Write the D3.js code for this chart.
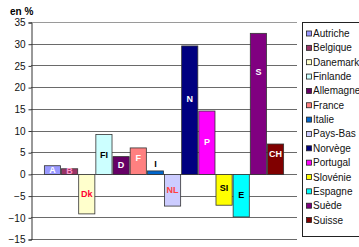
<!DOCTYPE html>
<html>
<head>
<meta charset="utf-8">
<script src="https://cdn.jsdelivr.net/npm/d3@7"></script>
<style>
  body { margin: 0; background: #fff; }
  svg { font-family: "Liberation Sans", Arial, sans-serif; }
</style>
</head>
<body>
<div id="chart"></div>
<script>
const countries = ["Autriche","Belgique","Danemark","Finlande","Allemagne","France","Italie",
  "Pays-Bas","Norvège","Portugal","Slovénie","Espagne","Suède","Suisse"];
const codes = ["A","B","Dk","FI","D","F","I","NL","N","P","SI","E","S","CH"];
const values = [2.0, 1.3, -9.1, 9.2, 4.1, 6.1, 0.8, -7.3, 29.6, 14.6, -7.1, -9.8, 32.5, 7.0];
const colors = ["#9999FF","#993366","#FFFFCC","#CCFFFF","#660066","#FF8080","#0066CC",
  "#CCCCFF","#000080","#FF00FF","#FFFF00","#00FFFF","#800080","#800000"];
const labelColors = ["#fff","#ff99cc","#ff0033","#000","#fff","#fff","#000",
  "#ff4040","#fff","#fff","#000","#000","#fff","#fff"];
// where the code label sits, in chart units
const labelAt = [1.0, 0.65, -4.55, 4.4, 2.0, 3.8, 2.4, -3.65, 17.3, 7.3, -3.1, -4.9, 23.6, 4.7];
const yTicks = [-15,-10,-5,0,5,10,15,20,25,30,35];

const W = 359, H = 247;
const plot = {left: 31, right: 297, top: 22, bottom: 239};

const svg = d3.select("#chart").append("svg")
  .attr("width", W).attr("height", H);

let y = d3.scaleLinear().domain([-15, 35]).range([plot.bottom, plot.top]);
let x = d3.scaleBand().domain(countries).range([plot.left, plot.right])
  .paddingInner(0).paddingOuter(0.75);

// gridlines
svg.append("g").selectAll("line")
  .data(yTicks)
  .enter().append("line")
  .attr("x1", plot.left).attr("x2", plot.right)
  .attr("y1", d => Math.round(y(d)) + 0.5).attr("y2", d => Math.round(y(d)) + 0.5)
  .attr("stroke", d => d == 35 ? "#9a9a9a" : "#6a6a6a")
  .attr("stroke-width", 1);

// y axis
const yAxis = d3.axisLeft(y).tickValues(yTicks).tickSize(3).tickPadding(3);
const ga = svg.append("g")
  .attr("transform", "translate(" + (plot.left + 0.5) + ",0.5)")
  .call(yAxis);
ga.select(".domain").attr("stroke", "#333");
ga.selectAll(".tick line").attr("stroke", "#333");
ga.selectAll("text").attr("font-size", 10).attr("fill", "#111")
  .attr("font-family", "Liberation Sans, Arial, sans-serif");

// bars
svg.append("g").selectAll("rect")
  .data(countries)
  .enter().append("rect")
  .attr("x", d => x(d) + 0.5)
  .attr("width", x.bandwidth() - 1)
  .attr("y", (d, i) => y(Math.max(0, values[i])) + 0.5)
  .attr("height", (d, i) => Math.abs(y(values[i]) - y(0)))
  .attr("fill", (d, i) => colors[i])
  .attr("stroke", "#333").attr("stroke-width", 0.8);

// bar codes
svg.append("g").selectAll("text")
  .data(countries)
  .enter().append("text")
  .attr("x", d => x(d) + x.bandwidth() / 2)
  .attr("y", (d, i) => y(labelAt[i]))
  .attr("dy", "0.35em")
  .attr("text-anchor", "middle")
  .attr("font-size", 9).attr("font-weight", "bold")
  .attr("fill", (d, i) => labelColors[i])
  .text((d, i) => codes[i]);

// unit label
svg.append("text")
  .attr("x", 10).attr("y", 15)
  .attr("font-size", 10).attr("font-weight", "bold")
  .text("en %");

// legend
const lg = svg.append("g");
lg.append("rect")
  .attr("x", 302.5).attr("y", 22.5)
  .attr("width", 70).attr("height", 214)
  .attr("fill", "#fff").attr("stroke", "#222");
const item = lg.selectAll(".item")
  .data(countries)
  .enter().append("g")
  .attr("class", "item")
  .attr("transform", (d, i) => "translate(306," + (33.5 + i * 14.35) + ")");
item.append("rect")
  .attr("x", 0.5).attr("y", -2.5).attr("width", 5).attr("height", 5)
  .attr("fill", (d, i) => colors[i]).attr("stroke", "#222").attr("stroke-width", 0.8);
item.append("text")
  .attr("x", 7).attr("dy", "0.35em")
  .attr("font-size", 10).attr("fill", "#111")
  .text(d => d);
</script>
</body>
</html>
